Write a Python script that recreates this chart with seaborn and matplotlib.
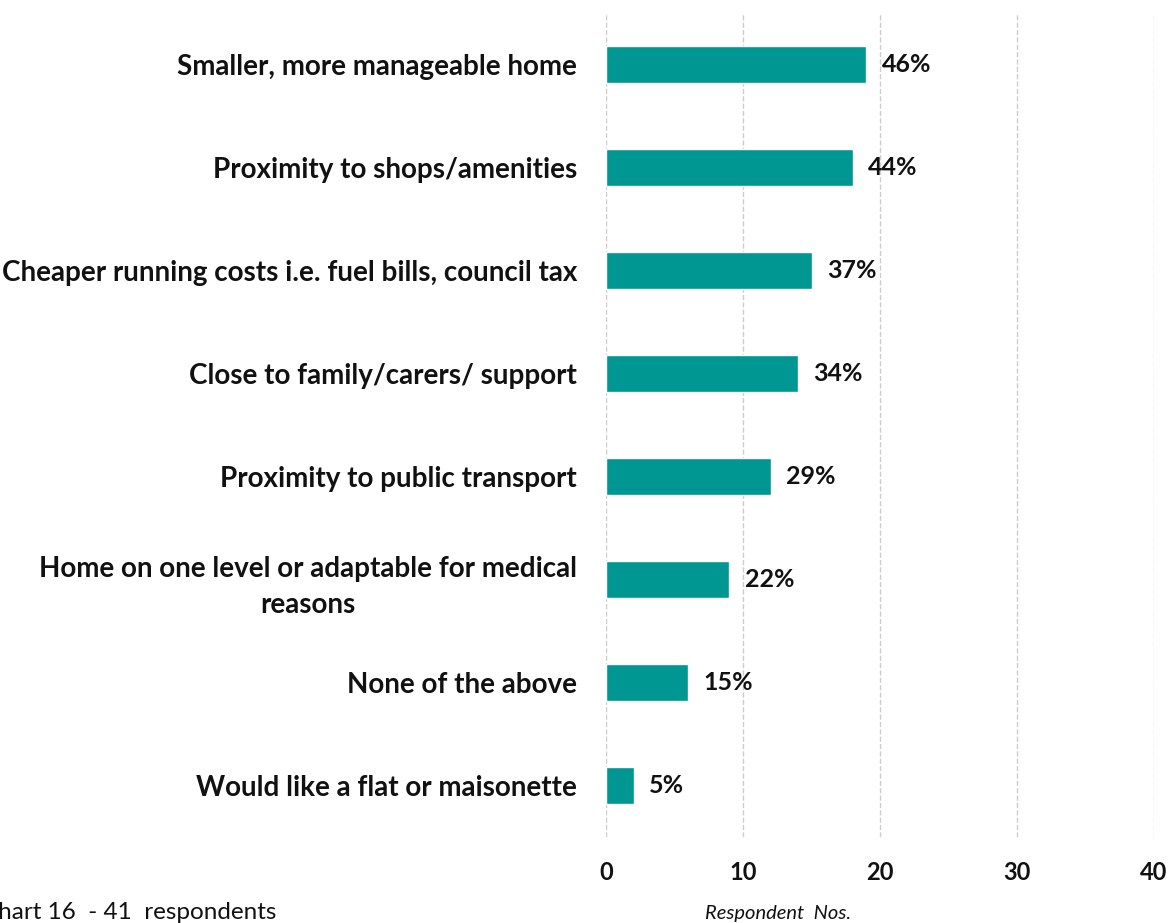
import matplotlib
matplotlib.use("Agg")
import matplotlib.pyplot as plt
import seaborn as sns
import pandas as pd

categories = [
    "Smaller, more manageable home",
    "Proximity to shops/amenities",
    "Cheaper running costs i.e. fuel bills, council tax",
    "Close to family/carers/ support",
    "Proximity to public transport",
    "Home on one level or adaptable for medical\nreasons",
    "None of the above",
    "Would like a flat or maisonette",
]
respondents = [19, 18, 15, 14, 12, 9, 6, 2]
percent_labels = ["46%", "44%", "37%", "34%", "29%", "22%", "15%", "5%"]
x_ticks = [0, 10, 20, 30, 40]

df = pd.DataFrame({"reason": categories, "count": respondents})

sns.set_theme(style="white")
plt.rcParams["font.family"] = ["Lato", "DejaVu Sans"]

fig = plt.figure(figsize=(11.68, 9.23), dpi=100)
ax = fig.add_axes([0.519, 0.093, 0.469, 0.893])

sns.barplot(data=df, x="count", y="reason", color="#009692", width=0.36,
            saturation=1, ax=ax, zorder=3)

ax.set_xlim(0, 40)
ax.set_ylim(len(categories) - 0.5, -0.5)
ax.set_xticks(x_ticks)
ax.set_xticklabels([str(t) for t in x_ticks], fontsize=17, fontweight="bold",
                   color="#111111")
ax.tick_params(axis="x", length=0, pad=17)
ax.tick_params(axis="y", length=0, pad=21)
for lbl in ax.get_yticklabels():
    lbl.set_fontsize(20)
    lbl.set_fontweight("bold")
    lbl.set_color("#111111")
    lbl.set_multialignment("center")
    lbl.set_linespacing(1.45)

ax.grid(axis="x", color="#cccccc", linestyle="--", linewidth=1, zorder=0)
ax.grid(axis="y", visible=False)
for s in ax.spines.values():
    s.set_visible(False)

ax.set_ylabel("")
ax.set_xlabel("Respondent  Nos.", fontsize=14.5, fontstyle="italic", color="#111111")
ax.xaxis.set_label_coords(0.314, -0.082)

for bar, txt in zip(ax.patches, percent_labels):
    ax.annotate(txt, (bar.get_width(), bar.get_y() + bar.get_height() / 2),
                xytext=(11, 0), textcoords="offset points", va="center",
                ha="left", fontsize=18, fontweight="bold", color="#111111")

fig.text(-0.015, 0.0, "Chart 16  - 41  respondents", fontsize=17.5,
         color="#111111", ha="left", va="bottom")

fig.savefig("out.png", dpi=100)
